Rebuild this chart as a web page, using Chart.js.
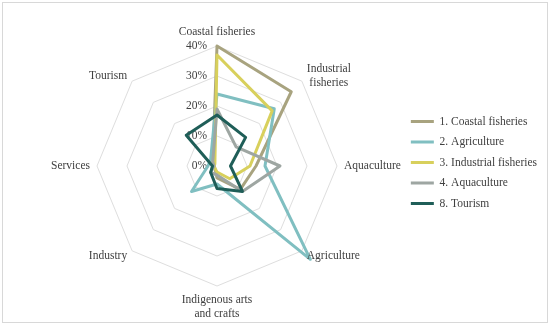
<!DOCTYPE html>
<html>
<head>
<meta charset="utf-8">
<script src="https://cdn.jsdelivr.net/npm/chart.js@4"></script>
<style>
  html, body { margin: 0; padding: 0; background: #fff; }
  #wrap { width: 550px; height: 325px; }
</style>
</head>
<body>
<div id="wrap"><canvas id="radarChart" width="550" height="325"></canvas></div>
<script>
// axes, clockwise from the top
const axisLabels = ['Coastal fisheries', ['Industrial', 'fisheries'], 'Aquaculture', 'Agriculture',
    ['Indigenous arts', 'and crafts'], 'Industry', 'Services', 'Tourism'];
const seriesNames = ['1. Coastal fisheries', '2. Agriculture', '3. Industrial fisheries', '4. Aquaculture', '8. Tourism'];

// shares in %
const coastalFisheries = [40, 35, 13, 11, 4, 1, 1, 2];
const agriculture = [24, 27, 16, 44, 6, 12, 3, 3];
const industrialFisheries = [37, 26, 11, 6, 2, 1, 1, 1];
const aquaculture = [19, 9, 21, 12, 3, 3, 1, 2];
const tourism = [17, 13.5, 4.5, 12, 7.5, 3, 1.5, 14.5];
const tickValues = [0, 10, 20, 30, 40];

const seriesValues = [coastalFisheries, agriculture, industrialFisheries, aquaculture, tourism];
const seriesColors = ['#a8a37f', '#80bfc1', '#d8d05c', '#9ea6a2', '#1f5e58'];
const serif = '"Liberation Serif", "Times New Roman", serif';
const textColor = '#404040';

// white page with a thin frame
const framePlugin = {
    id: 'frame',
    beforeDraw(chart) {
        const ctx = chart.ctx;
        ctx.save();
        ctx.fillStyle = '#fff';
        ctx.fillRect(0, 0, chart.width, chart.height);
        ctx.strokeStyle = '#d8d8d8';
        ctx.lineWidth = 1;
        ctx.strokeRect(2.5, 2.5, chart.width - 5, chart.height - 5);
        ctx.restore();
    }
};

// tick labels sit left of the vertical axis, under the lines
const tickTextPlugin = {
    id: 'tickText',
    beforeDatasetsDraw(chart) {
        const scale = chart.scales.r;
        const ctx = chart.ctx;
        ctx.save();
        ctx.font = '11.5px ' + serif;
        ctx.fillStyle = textColor;
        ctx.textAlign = 'right';
        ctx.textBaseline = 'middle';
        scale.ticks.forEach(t => {
            const p = scale.getPointPositionForValue(0, t.value);
            ctx.fillText(t.value + '%', p.x - 10, p.y);
        });
        ctx.restore();
    }
};

// category labels: diagonal ones centred on the spoke end like Excel does
const axisTextPlugin = {
    id: 'axisText',
    afterDraw(chart) {
        const scale = chart.scales.r;
        const ctx = chart.ctx;
        const lineH = 14;
        ctx.save();
        ctx.font = '11.5px ' + serif;
        ctx.fillStyle = textColor;
        ctx.textAlign = 'center';
        ctx.textBaseline = 'middle';
        chart.data.labels.forEach((label, i) => {
            const lines = [].concat(label);
            const w = Math.max(...lines.map(s => ctx.measureText(s).width));
            const h = lines.length * lineH;
            const p = scale.getPointPosition(i, scale.drawingArea + 7);
            const a = scale.getIndexAngle(i);
            const sx = Math.sin(a);
            const cy = Math.cos(a);
            let x = p.x;
            let y = p.y;
            if (sx > 0.01) x += w / 2;
            else if (sx < -0.01) x -= w / 2;
            else y += cy > 0 ? -h / 2 : h / 2;
            lines.forEach((s, k) => ctx.fillText(s, x, y - h / 2 + lineH * (k + 0.5)));
        });
        ctx.restore();
    }
};

const ctx = document.getElementById('radarChart').getContext('2d');
const chart = new Chart(ctx, {
    type: 'radar',
    data: {
        labels: axisLabels,
        datasets: seriesNames.map((name, i) => ({
            label: name,
            data: seriesValues[i],
            borderColor: seriesColors[i],
            backgroundColor: seriesColors[i],
            borderWidth: 3,
            borderJoinStyle: 'round',
            fill: false,
            pointRadius: 0,
            pointHoverRadius: 0,
            order: seriesNames.length - 1 - i
        }))
    },
    options: {
        responsive: false,
        animation: false,
        devicePixelRatio: 1,
        layout: { padding: { right: 3 } },
        elements: { line: { tension: 0 } },
        scales: {
            r: {
                min: 0,
                max: 40,
                angleLines: { display: false },
                grid: { color: '#dedede', lineWidth: 1 },
                pointLabels: { display: false },
                ticks: { display: false },
                afterBuildTicks(scale) {
                    scale.ticks = tickValues.map(v => ({ value: v }));
                },
                afterFit(scale) {
                    scale.xCenter = 217;
                    scale.yCenter = 166;
                    scale.drawingArea = 120;
                }
            }
        },
        plugins: {
            tooltip: { enabled: false },
            legend: {
                position: 'right',
                labels: {
                    boxWidth: 23,
                    boxHeight: 3,
                    padding: 9,
                    color: textColor,
                    font: { family: serif, size: 11.5 },
                    sort: (a, b) => a.datasetIndex - b.datasetIndex,
                    generateLabels(c) {
                        return Chart.defaults.plugins.legend.labels.generateLabels(c)
                            .map(item => ({ ...item, fillStyle: item.strokeStyle, lineWidth: 0 }));
                    }
                }
            }
        }
    },
    plugins: [framePlugin, tickTextPlugin, axisTextPlugin]
});
</script>
</body>
</html>
